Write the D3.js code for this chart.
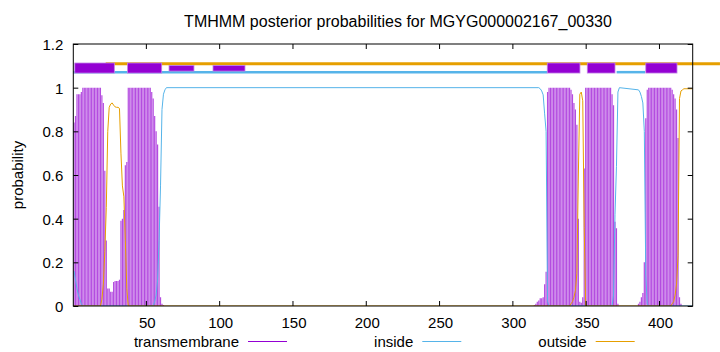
<!DOCTYPE html>
<html>
<head>
<meta charset="utf-8">
<script src="https://d3js.org/d3.v7.min.js"></script>
<style>
  body { margin: 0; background: #fff; }
  svg text { font-family: "Liberation Sans", Arial, sans-serif; font-size: 15px; fill: #000; }
</style>
</head>
<body>
<div id="chart"></div>
<script>
// sequence and ticks
var seqLength = 423;
var xTicks = [50, 100, 150, 200, 250, 300, 350, 400];
var yTicks = [0, 0.2, 0.4, 0.6, 0.8, 1, 1.2];
var yTickLabels = ["0", "0.2", "0.4", "0.6", "0.8", "1", "1.2"];

// transmembrane posterior, residues 1..62
var tmStartN = 1;
var tmN = [.84, .87, .97, .97, .97, .98,
  1, 1, 1, 1, 1, 1, 1, 1, 1, 1, 1, 1, 1,
  .965, .93, .62, .3, .08, .08, .065, .065, .11, .115, .115, .115, .12, .39, .4, .44, .645, .66,
  1, 1, 1, 1, 1, 1, 1, 1, 1, 1, 1, 1, 1, 1, 1, 1,
  .98, .95, .87, .8, .74, .455, .04, .01, .005];

// transmembrane posterior, residues 315..415
var tmStartC = 315;
var tmC = [.005, .01, .02, .025, .035, .035, .04, .1, .157, .98,
  1, 1, 1, 1, 1, 1, 1, 1, 1, 1, 1, 1, 1, 1, 1,
  .99, .97, .93, .9, .83, .4, .02, .015, .04, .63,
  1, 1, 1, 1, 1, 1, 1, 1, 1, 1, 1, 1, 1, 1, 1, 1, 1, 1,
  .97, .92, .386, .356, .01,
  0, 0, 0, 0, 0, 0, 0, 0, 0, 0, 0, 0, 0,
  .01, .02, .04, .06, .2, .86, .99,
  1, 1, 1, 1, 1, 1, 1, 1, 1, 1, 1, 1, 1, 1, 1, 1,
  .99, .97, .95, .9, .77, .04, .01];

// inside / outside posterior as [residue, prob]
var insideProb = [[1, .16], [2, .12], [3, .08], [4, .05], [5, .03], [6, .01], [7, 0], [55, 0],
  [56, .02], [57, .05], [58, .12], [59, .3], [60, .55], [61, .9], [62, .97], [63, .99], [64, 1],
  [318, 1], [319, .995], [320, .985], [321, .967], [322, .88], [323, .8], [324, .02], [325, 0],
  [368, 0], [369, .05], [370, .42], [371, .64], [372, .98], [373, 1],
  [386, .99], [387, .98], [388, .96], [389, .93], [390, .8], [391, .14], [392, .01], [393, 0], [423, 0]];
var outsideProb = [[1, 0], [19, 0], [20, .03], [21, .1], [22, .25], [23, .45], [24, .8], [25, .91],
  [26, .925], [27, .93], [28, .92], [29, .912], [30, .91], [31, .91], [32, .905], [33, .7], [34, .55],
  [35, .5], [36, .3], [37, .08], [38, 0], [339, 0], [340, .01], [341, .02], [342, .04], [343, .07],
  [344, .15], [345, .6], [346, .97], [347, .98], [348, .94], [349, .36], [350, 0], [408, 0],
  [409, .01], [410, .02], [411, .05], [412, .1], [413, .23], [414, .95], [415, .985], [416, .99],
  [417, .995], [423, .995]];

// predicted topology band at the top
var tmBoxes = [[1.5, 28.5], [37.5, 60.8], [323.8, 346.1], [351.1, 370], [391, 412.3]];
var tmThinBoxes = [[65.8, 82.8], [95.8, 117.6]];
var insideBand = [[0.5, 323.8], [371.1, 390.5]];
var outsideBand = [[22.6, 441.6]];

var W = 720, H = 352;
var pLeft = 73.3, pRight = 692.7, pTop = 44, pBottom = 306;

var svg = d3.select("#chart").append("svg")
  .attr("width", W).attr("height", H);

var x = d3.scaleLinear().domain([0.5, seqLength]).range([pLeft, pRight]);
var y = d3.scaleLinear().domain([0, 1.2]).range([pBottom, pTop]);

svg.append("defs").append("clipPath").attr("id", "clip")
  .append("rect").attr("x", pLeft).attr("y", pTop).attr("width", pRight - pLeft).attr("height", pBottom - pTop);

var plot = svg.append("g").attr("clip-path", "url(#clip)");

// impulses for transmembrane
var tmPoints = [];
tmN.forEach(function(p, i) { if (p > 0) tmPoints.push([tmStartN + i, p]); });
tmC.forEach(function(p, i) { if (p > 0) tmPoints.push([tmStartC + i, p]); });

plot.selectAll(".imp")
  .data(tmPoints)
  .enter().append("line")
    .attr("x1", function(d) { return x(d[0]); })
    .attr("x2", function(d) { return x(d[0]); })
    .attr("y1", y(0))
    .attr("y2", function(d) { return y(d[1]); })
    .attr("stroke", "#9400d3")
    .attr("stroke-opacity", 0.7)
    .attr("stroke-width", 1.2);

var line = d3.line()
  .x(function(d) { return x(d[0]); })
  .y(function(d) { return y(d[1]); });

plot.append("path").datum(insideProb)
  .attr("fill", "none").attr("stroke", "#56b4e9").attr("stroke-width", 1).attr("d", line);
plot.append("path").datum(outsideProb)
  .attr("fill", "none").attr("stroke", "#e69f00").attr("stroke-width", 1).attr("d", line);

// topology band (not clipped)
svg.selectAll(".oband").data(outsideBand).enter().append("line")
  .attr("x1", function(d) { return x(d[0]); }).attr("x2", function(d) { return x(d[1]); })
  .attr("y1", y(1.11)).attr("y2", y(1.11))
  .attr("stroke", "#e69f00").attr("stroke-width", 3);
svg.selectAll(".iband").data(insideBand).enter().append("line")
  .attr("x1", function(d) { return x(d[0]); }).attr("x2", function(d) { return x(d[1]); })
  .attr("y1", y(1.071)).attr("y2", y(1.071))
  .attr("stroke", "#56b4e9").attr("stroke-width", 2.5);
svg.selectAll(".tbox").data(tmBoxes).enter().append("rect")
  .attr("x", function(d) { return x(d[0]); })
  .attr("width", function(d) { return x(d[1]) - x(d[0]); })
  .attr("y", y(1.113)).attr("height", y(1.067) - y(1.113))
  .attr("fill", "#9400d3").attr("stroke", "#c184e6").attr("stroke-width", 0.8);
svg.selectAll(".tthin").data(tmThinBoxes).enter().append("rect")
  .attr("x", function(d) { return x(d[0]); })
  .attr("width", function(d) { return x(d[1]) - x(d[0]); })
  .attr("y", y(1.102)).attr("height", y(1.076) - y(1.102))
  .attr("fill", "#9400d3").attr("stroke", "#c184e6").attr("stroke-width", 0.8);

// axes with inward ticks on all sides
function styleAxis(g) {
  g.select(".domain").remove();
  g.selectAll(".tick line").attr("stroke", "#000");
}
svg.append("g").attr("transform", "translate(0," + pBottom + ")")
  .call(d3.axisBottom(x).tickValues(xTicks).tickSize(-5).tickPadding(12))
  .call(styleAxis)
  .call(function(g) {
    g.selectAll("text").attr("dy", null).attr("y", 16).attr("dx", 1)
      .attr("dominant-baseline", "central").attr("font-family", null).attr("font-size", null);
  });
svg.append("g").attr("transform", "translate(0," + pTop + ")")
  .call(d3.axisTop(x).tickValues(xTicks).tickSize(-5).tickFormat(""))
  .call(styleAxis);
svg.append("g").attr("transform", "translate(" + pLeft + ",0)")
  .call(d3.axisLeft(y).tickValues(yTicks).tickSize(-5)
    .tickFormat(function(d, i) { return yTickLabels[i]; }))
  .call(styleAxis)
  .call(function(g) {
    g.selectAll("text").attr("dy", null).attr("x", -10)
      .attr("dominant-baseline", "central").attr("font-family", null).attr("font-size", null);
  });
svg.append("g").attr("transform", "translate(" + pRight + ",0)")
  .call(d3.axisRight(y).tickValues(yTicks).tickSize(-5).tickFormat(""))
  .call(styleAxis);

svg.append("rect")
  .attr("x", pLeft).attr("y", pTop).attr("width", pRight - pLeft).attr("height", pBottom - pTop)
  .attr("fill", "none").attr("stroke", "#000").attr("stroke-width", 1);

// title and y label
svg.append("text").attr("x", 398).attr("y", 21)
  .attr("text-anchor", "middle").attr("dominant-baseline", "central")
  .style("font-size", "16px")
  .text("TMHMM posterior probabilities for MGYG000002167_00330");
svg.append("text")
  .attr("transform", "translate(17," + ((pTop + pBottom) / 2) + ") rotate(-90)")
  .attr("text-anchor", "middle").attr("dominant-baseline", "central")
  .text("probability");

// legend
var legendNames = ["transmembrane", "inside", "outside"];
var legendColors = ["#9400d3", "#56b4e9", "#e69f00"];
var legendTextX = [239, 413.3, 586.7];
var legendY = 341.5;
legendNames.forEach(function(n, i) {
  svg.append("text").attr("x", legendTextX[i]).attr("y", legendY)
    .attr("text-anchor", "end").attr("dominant-baseline", "central").text(n);
  svg.append("line")
    .attr("x1", legendTextX[i] + 9).attr("x2", legendTextX[i] + 48)
    .attr("y1", legendY).attr("y2", legendY)
    .attr("stroke", legendColors[i]).attr("stroke-width", 1);
});
</script>
</body>
</html>
